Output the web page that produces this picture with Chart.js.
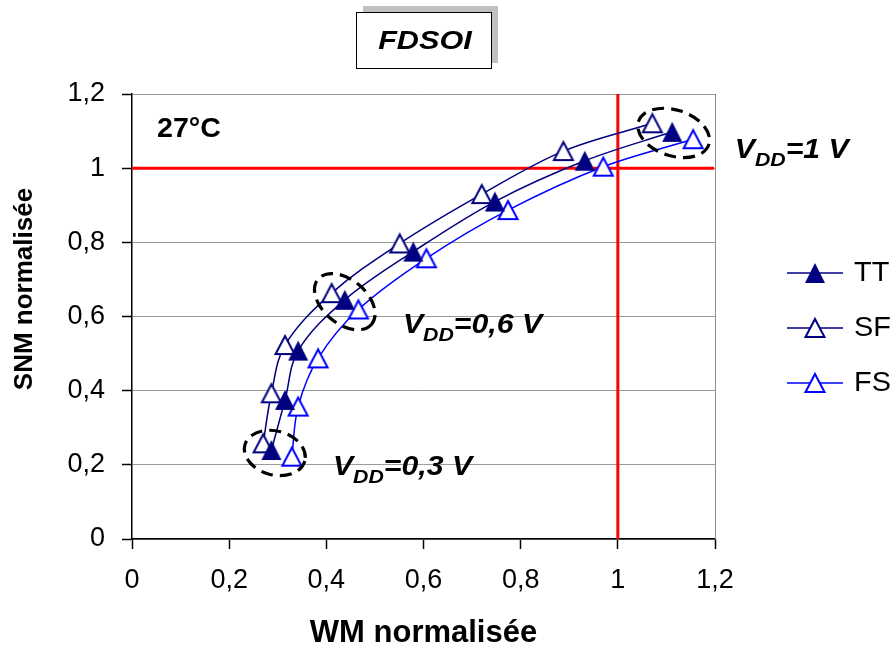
<!DOCTYPE html>
<html>
<head>
<meta charset="utf-8">
<script src="https://cdn.jsdelivr.net/npm/chart.js@4/dist/chart.umd.min.js"></script>
<style>
html,body{margin:0;padding:0;background:#fff;}
#wrap{width:893px;height:655px;position:relative;}
</style>
</head>
<body>
<div id="wrap"><canvas id="c" width="893" height="655"></canvas></div>
<script>
// ---- data ----
const seriesNames = ['TT', 'SF', 'FS'];
const ttX = [0.287, 0.315, 0.342, 0.438, 0.579, 0.747, 0.932, 1.112];
const ttY = [0.240, 0.375, 0.508, 0.645, 0.775, 0.910, 1.020, 1.098];
const sfX = [0.270, 0.287, 0.315, 0.411, 0.551, 0.720, 0.888, 1.071];
const sfY = [0.258, 0.393, 0.523, 0.663, 0.797, 0.930, 1.046, 1.121];
const fsX = [0.329, 0.342, 0.383, 0.466, 0.606, 0.774, 0.970, 1.155];
const fsY = [0.222, 0.357, 0.487, 0.619, 0.757, 0.887, 1.004, 1.078];

const xTickValues = [0, 0.2, 0.4, 0.6, 0.8, 1, 1.2];
const xTickLabels = ['0', '0,2', '0,4', '0,6', '0,8', '1', '1,2'];
const yTickValues = [0, 0.2, 0.4, 0.6, 0.8, 1, 1.2];
const yTickLabels = ['0', '0,2', '0,4', '0,6', '0,8', '1', '1,2'];

const chartTitle = 'FDSOI';
const xTitle = 'WM normalisée';
const yTitle = 'SNM normalisée';
const tempLabel = '27°C';
const refX = 1, refY = 1;

// VDD annotations (anchor in data units: left, baseline)
const vddRest = ['=1 V', '=0,6 V', '=0,3 V'];
const vddAnchorX = [1.2407, 0.5576, 0.4136];
const vddAnchorY = [1.0275, 0.5556, 0.1726];
// dashed ellipse centers (data units)
const ellX = [1.115, 0.438, 0.294];
const ellY = [1.095, 0.640, 0.232];
const tempAnchor = [0.0514, 1.0841];

// ---- styles ----
const NAVY = '#000080', BLUE = '#0000FF';
const FONT = 'Arial, "Liberation Sans", sans-serif';
const SX = 1.12;
const ellStyle = [{a: 37, b: 23, rot: 18}, {a: 35, b: 22, rot: 40}, {a: 31, b: 22, rot: 15}];

function triImg(fill, stroke, lw) {
  const c = document.createElement('canvas');
  c.width = 24; c.height = 24;
  const g = c.getContext('2d');
  g.beginPath();
  if (stroke) { g.moveTo(12, 3); g.lineTo(21.5, 21); g.lineTo(2.5, 21); }
  else { g.moveTo(12, 2); g.lineTo(22, 22); g.lineTo(2, 22); }
  g.closePath();
  g.fillStyle = fill; g.fill();
  if (stroke) { g.strokeStyle = stroke; g.lineWidth = lw; g.stroke(); }
  return c;
}
const ttImg = triImg(NAVY, null, 0);
const sfImg = triImg('#ffffff', NAVY, 2);
const fsImg = triImg('#ffffff', BLUE, 2);

function pts(xs, ys) { return xs.map((x, i) => ({x: x, y: ys[i]})); }

function sText(ctx, text, x, y, font, align, sx) {
  sx = sx || SX;
  ctx.save();
  ctx.font = font;
  const w = ctx.measureText(text).width * sx;
  let left = x;
  if (align === 'center') left = x - w / 2;
  else if (align === 'right') left = x - w;
  ctx.translate(left, y);
  ctx.scale(sx, 1);
  ctx.textAlign = 'left';
  ctx.fillText(text, 0, 0);
  ctx.restore();
  return w;
}

const decor = {
  id: 'decor',
  beforeDatasetsDraw(chart) {
    const ctx = chart.ctx, ca = chart.chartArea;
    const xs = chart.scales.x, ys = chart.scales.y;
    ctx.save();
    ctx.strokeStyle = '#8c8c8c'; ctx.lineWidth = 1;
    ctx.beginPath(); ctx.moveTo(ca.right + 0.5, ca.top); ctx.lineTo(ca.right + 0.5, ca.bottom); ctx.stroke();
    ctx.strokeStyle = '#FF0000'; ctx.lineWidth = 3;
    const rx = xs.getPixelForValue(refX), ry = ys.getPixelForValue(refY);
    ctx.beginPath(); ctx.moveTo(rx, ca.top); ctx.lineTo(rx, ca.bottom); ctx.stroke();
    ctx.beginPath(); ctx.moveTo(ca.left, ry); ctx.lineTo(ca.right - 1, ry); ctx.stroke();
    ctx.restore();
  },
  afterDatasetsDraw(chart) {
    const ctx = chart.ctx;
    const xs = chart.scales.x, ys = chart.scales.y;
    ctx.save();
    ctx.strokeStyle = '#000'; ctx.lineWidth = 3.2; ctx.setLineDash([12, 7]);
    ellX.forEach((v, i) => {
      const cx = xs.getPixelForValue(v), cy = ys.getPixelForValue(ellY[i]);
      const s = ellStyle[i];
      ctx.beginPath();
      ctx.ellipse(cx, cy, s.a, s.b, s.rot * Math.PI / 180, 0, Math.PI * 2);
      ctx.stroke();
    });
    ctx.setLineDash([]);
    ctx.fillStyle = '#000';
    ctx.textBaseline = 'alphabetic';
    vddRest.forEach((t, i) => {
      let x = xs.getPixelForValue(vddAnchorX[i]);
      const y = ys.getPixelForValue(vddAnchorY[i]);
      x += sText(ctx, 'V', x, y, 'italic bold 27px ' + FONT, 'left');
      x += sText(ctx, 'DD', x, y + 8, 'italic bold 19px ' + FONT, 'left');
      sText(ctx, t, x, y, 'italic bold 27px ' + FONT, 'left');
    });
    sText(ctx, tempLabel, xs.getPixelForValue(tempAnchor[0]), ys.getPixelForValue(tempAnchor[1]), 'bold 27px ' + FONT, 'left', 1.06);
    ctx.restore();
  },
  afterDraw(chart) {
    const ctx = chart.ctx;
    ctx.save();
    ctx.fillStyle = '#c0c0c0';
    ctx.fillRect(363, 6, 135, 57);
    ctx.fillStyle = '#fff';
    ctx.fillRect(356, 12, 136, 56);
    ctx.strokeStyle = '#000'; ctx.lineWidth = 1;
    ctx.strokeRect(356.5, 12.5, 135, 56);
    ctx.fillStyle = '#000';
    ctx.textBaseline = 'alphabetic';
    sText(ctx, chartTitle, 425, 49, 'italic bold 26px ' + FONT, 'center', 1.18);
    ctx.save();
    ctx.translate(25, 289);
    ctx.rotate(-Math.PI / 2);
    ctx.font = 'bold 26px ' + FONT;
    ctx.textAlign = 'center'; ctx.textBaseline = 'middle';
    ctx.fillText(yTitle, 0, 0);
    ctx.restore();
    const imgs = [ttImg, sfImg, fsImg];
    const cols = [NAVY, NAVY, BLUE];
    const rowsY = [273, 328, 383];
    seriesNames.forEach((n, i) => {
      const y = rowsY[i];
      ctx.strokeStyle = cols[i]; ctx.lineWidth = 1.5;
      ctx.beginPath(); ctx.moveTo(787, y); ctx.lineTo(843, y); ctx.stroke();
      ctx.drawImage(imgs[i], 815 - 12, y - 12);
      ctx.fillStyle = '#000';
      ctx.textBaseline = 'middle';
      sText(ctx, n, 854, y + 1, '27px ' + FONT, 'left', 1.07);
    });
    ctx.restore();
  }
};

const mkDs = (label, xs, ys, col, img) => ({
  label: label,
  data: pts(xs, ys),
  showLine: true,
  borderColor: col,
  borderWidth: 1.5,
  tension: 0.35,
  pointStyle: img,
  pointRadius: 10,
  pointHoverRadius: 10,
  backgroundColor: col,
  clip: false
});

new Chart(document.getElementById('c'), {
  type: 'scatter',
  data: {
    datasets: [
      mkDs(seriesNames[0], ttX, ttY, NAVY, ttImg),
      mkDs(seriesNames[1], sfX, sfY, NAVY, sfImg),
      mkDs(seriesNames[2], fsX, fsY, BLUE, fsImg)
    ]
  },
  options: {
    responsive: false,
    devicePixelRatio: 1,
    animation: false,
    events: [],
    layout: { padding: { left: 0, top: 94, right: 178, bottom: 0 } },
    plugins: { legend: { display: false }, tooltip: { enabled: false }, title: { display: false } },
    scales: {
      x: {
        type: 'linear', min: 0, max: 1.2,
        afterBuildTicks: s => { s.ticks = xTickValues.map(v => ({value: v})); },
        afterFit: s => { s.height = 116; },
        ticks: { callback: (v, i) => xTickLabels[i], color: '#000', font: { family: FONT, size: 27 }, padding: 15, maxRotation: 0, autoSkip: false },
        grid: { drawOnChartArea: false, tickLength: 10, tickColor: '#000', tickWidth: 1.5 },
        border: { color: '#000', width: 1.5 },
        title: { display: true, text: xTitle, color: '#000', font: { family: FONT, size: 31, weight: 'bold' }, padding: { top: 0, bottom: 3 } }
      },
      y: {
        type: 'linear', min: 0, max: 1.2,
        afterBuildTicks: s => { s.ticks = yTickValues.map(v => ({value: v})); },
        afterFit: s => { s.width = 132; },
        ticks: { callback: (v, i) => yTickLabels[i], color: '#000', font: { family: FONT, size: 27 }, padding: 17, autoSkip: false },
        grid: { color: '#9a9a9a', lineWidth: 1, tickLength: 10, tickColor: '#000', tickWidth: 1.5 },
        border: { color: '#000', width: 1.5 }
      }
    }
  },
  plugins: [decor]
});
</script>
</body>
</html>
